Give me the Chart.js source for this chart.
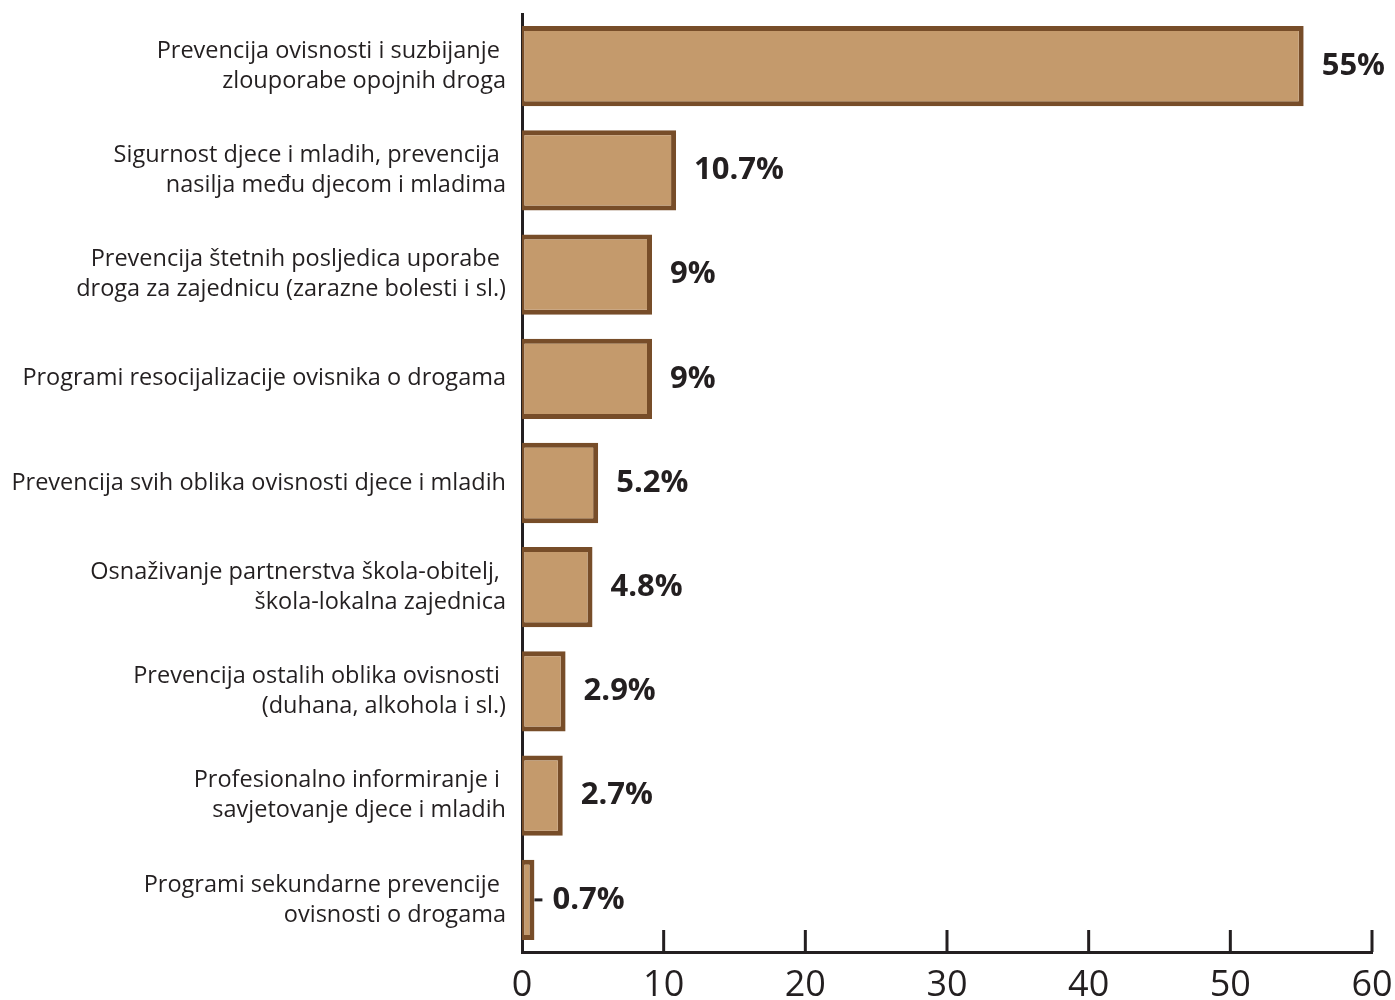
<!DOCTYPE html>
<html>
<head>
<meta charset="utf-8">
<script src="https://cdn.jsdelivr.net/npm/chart.js@4.4.0/dist/chart.umd.min.js"></script>
<style>
  html, body { margin: 0; padding: 0; background: #fff; }
  #wrap { position: relative; width: 1395px; height: 1000px; }
</style>
</head>
<body>
<div id="wrap"><canvas id="bar-chart"></canvas></div>
<script>
// categories (multi-line labels, trailing spaces kept as in the original)
const categories = [
  ["Prevencija ovisnosti i suzbijanje ", "zlouporabe opojnih droga"],
  ["Sigurnost djece i mladih, prevencija ", "nasilja među djecom i mladima"],
  ["Prevencija štetnih posljedica uporabe ", "droga za zajednicu (zarazne bolesti i sl.)"],
  "Programi resocijalizacije ovisnika o drogama",
  "Prevencija svih oblika ovisnosti djece i mladih",
  ["Osnaživanje partnerstva škola-obitelj, ", "škola-lokalna zajednica"],
  ["Prevencija ostalih oblika ovisnosti ", "(duhana, alkohola i sl.)"],
  ["Profesionalno informiranje i ", "savjetovanje djece i mladih"],
  ["Programi sekundarne prevencije ", "ovisnosti o drogama"]
];
const values = [55, 10.7, 9, 9, 5.2, 4.8, 2.9, 2.7, 0.7];
const valueLabels = ["55%", "10.7%", "9%", "9%", "5.2%", "4.8%", "2.9%", "2.7%", "0.7%"];
const xTicks = [0, 10, 20, 30, 40, 50, 60];

const ink = "#231F20";
const half = 2.5; // outline sits on the bar edge, half outside

const extras = {
  id: "extras",
  // let the outline straddle the bar edge like the original
  afterDatasetsUpdate(chart) {
    chart.getDatasetMeta(0).data.forEach(bar => {
      bar.x += half;
      bar.base -= half;
    });
  },
  afterDatasetsDraw(chart) {
    const ctx = chart.ctx;
    const meta = chart.getDatasetMeta(0);
    const x = chart.scales.x;
    ctx.save();
    ctx.strokeStyle = ink;
    ctx.lineWidth = 3;
    // tick marks pointing up from the x axis
    xTicks.forEach(t => {
      if (t === 0) return;
      const px = x.getPixelForValue(t);
      ctx.beginPath();
      ctx.moveTo(px, x.top);
      ctx.lineTo(px, x.top - 22);
      ctx.stroke();
    });
    ctx.fillStyle = ink;
    ctx.font = "bold 31px 'Open Sans'";
    ctx.textAlign = "left";
    ctx.textBaseline = "middle";
    meta.data.forEach((bar, i) => {
      if (values[i] < 1) {
        ctx.beginPath();
        ctx.moveTo(bar.x, bar.y);
        ctx.lineTo(bar.x + 8, bar.y);
        ctx.stroke();
      }
      ctx.fillText(valueLabels[i], bar.x + 18, bar.y);
    });
    ctx.restore();
  }
};

const config = {
  type: "bar",
  data: {
    labels: categories,
    datasets: [{
      data: values,
      backgroundColor: "#C49A6C",
      borderColor: "#774D29",
      borderWidth: 5,
      borderSkipped: false,
      categoryPercentage: 1,
      barPercentage: 0.77
    }]
  },
  options: {
    indexAxis: "y",
    responsive: true,
    maintainAspectRatio: false,
    animation: false,
    layout: { padding: { top: 14, right: 23, left: 0, bottom: 0 } },
    plugins: { legend: { display: false }, tooltip: { enabled: false } },
    scales: {
      x: {
        min: 0, max: 60,
        afterBuildTicks: s => { s.ticks = xTicks.map(v => ({ value: v })); },
        afterFit: s => { s.height = 48; s.paddingLeft = 0; s.paddingRight = 0; },
        grid: { display: false, drawTicks: false },
        border: { display: true, color: ink, width: 3 },
        ticks: { color: ink, padding: 12, maxRotation: 0, font: { family: "Open Sans", size: 36 } }
      },
      y: {
        afterFit: s => { s.width = 522; s.paddingTop = 0; s.paddingBottom = 0; },
        grid: { display: false, drawTicks: false },
        border: { display: true, color: ink, width: 3 },
        ticks: { color: ink, padding: 16, font: { family: "Open Sans", size: 23.5, lineHeight: 1.28 } }
      }
    }
  },
  plugins: [extras]
};

new Chart(document.getElementById("bar-chart").getContext("2d"), config);
</script>
</body>
</html>
